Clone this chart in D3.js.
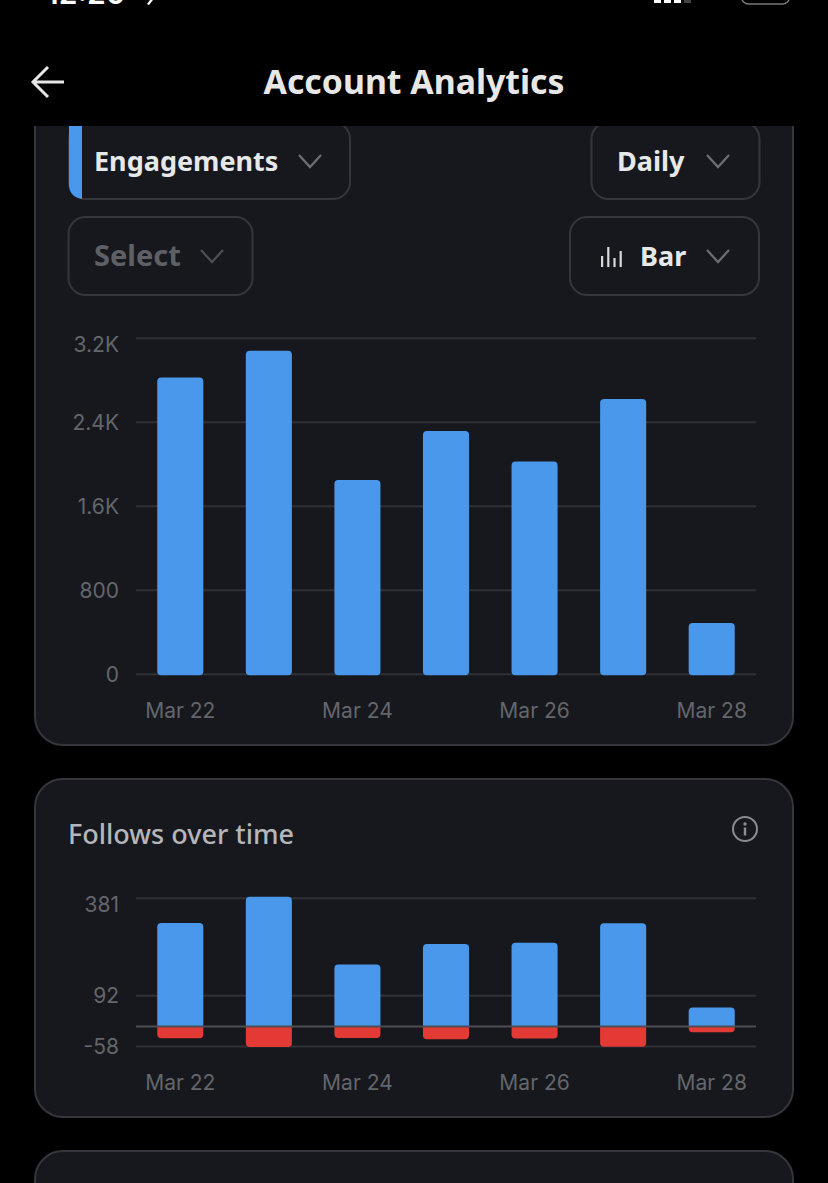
<!DOCTYPE html>
<html>
<head>
<meta charset="utf-8">
<script src="https://cdn.jsdelivr.net/npm/d3@7"></script>
<style>
html, body { margin: 0; padding: 0; background: #000; }
svg { display: block; }
text { font-family: Inter, "Liberation Sans", sans-serif; }
.ui { font-family: "Noto Sans", Inter, sans-serif; font-weight: 700; }
</style>
</head>
<body>
<svg id="chart" width="828" height="1183"></svg>
<script>
// values
const days = ["Mar 22", "Mar 23", "Mar 24", "Mar 25", "Mar 26", "Mar 27", "Mar 28"];
const dayLabels = ["Mar 22", "Mar 24", "Mar 26", "Mar 28"];
const engagements = [2820, 3076, 1845, 2311, 2021, 2616, 483];
const engagementTicks = [0, 800, 1600, 2400, 3200];
const follows = [306, 384, 183, 244, 248, 305, 56];
const unfollows = [-35, -61, -34, -38, -36, -60, -17];
const followTicks = [-58, 92, 381];

const blue = "#4a98eb";
const red = "#e33a36";
const cardFill = "#16181d";
const cardStroke = "#34363c";
const gridCol = "#2f3136";
const tickCol = "#63666b";

const svg = d3.select("#chart");

// cards, the top one runs under the header
card(35, 60, 758, 685);
card(35, 779, 758, 338);
card(35, 1151, 758, 80);

const x = d3.scaleBand().domain(days).range([136, 756]).paddingInner(0.48).paddingOuter(0.24);

// top chart
const y1 = d3.scaleLinear().domain([0, 3200]).range([673.7, 337.7]);
yAxis(y1, engagementTicks, d => d >= 1000 ? (d / 1000).toFixed(1) + "K" : d);
xAxis(711);
svg.append("g").selectAll("path").data(engagements).join("path")
    .attr("fill", blue)
    .attr("d", (d, i) => bar(x(days[i]), x.bandwidth(), y1(d), y1(0) + 1.5, 4, 4));

// follows chart
const y2 = d3.scaleLinear().domain([-58, 381]).range([1046, 897.7]);
yAxis(y2, followTicks, d => d < 0 ? "-" + Math.abs(d) : d);
xAxis(1083);
svg.append("g").selectAll("path").data(follows).join("path")
    .attr("fill", blue)
    .attr("d", (d, i) => bar(x(days[i]), x.bandwidth(), y2(d), y2(0), 4, 0));
svg.append("g").selectAll("path").data(unfollows).join("path")
    .attr("fill", red)
    .attr("d", (d, i) => bar(x(days[i]), x.bandwidth(), y2(0), y2(d), 0, 4));
svg.append("line")
    .attr("x1", 136).attr("x2", 756)
    .attr("y1", y2(0)).attr("y2", y2(0))
    .attr("stroke", "#4c4e53").attr("stroke-width", 2);

svg.append("text").attr("x", 68).attr("y", 843.5)
    .attr("fill", "#b4b6ba").attr("font-size", 27).attr("font-weight", 500)
    .style("font-family", "'Noto Sans', Inter, sans-serif")
    .text("Follows over time");

// info icon
const info = svg.append("g").attr("transform", "translate(745,829)");
info.append("circle").attr("r", 12).attr("fill", "none").attr("stroke", "#8a8c90").attr("stroke-width", 2);
info.append("circle").attr("cy", -5).attr("r", 1.7).attr("fill", "#8a8c90");
info.append("rect").attr("x", -1.2).attr("y", -1.5).attr("width", 2.4).attr("height", 8).attr("fill", "#8a8c90");

// dropdowns
button(69, 122, 281, 77, "Engagements", 94, 310, "#e7e8ea", 27, "#6d6f74");
button(591.5, 122, 168, 77, "Daily", 617, 718, "#e7e8ea", 27, "#6d6f74");
button(68.5, 217, 184, 78, "Select", 94, 212, "#5e6065", 29, "#4c4e53");
button(570, 217, 189, 78, "Bar", 640, 718, "#e7e8ea", 27, "#6d6f74");

// blue marker on Engagements
svg.append("path").attr("fill", blue)
    .attr("d", "M69,122 H82 V199 Q69,197 69,184 Z");

// small bars icon in the Bar button
const iconBars = [11, 20, 9, 16];
svg.append("g").selectAll("rect").data(iconBars).join("rect")
    .attr("x", (d, i) => 601 + i * 6.2)
    .attr("y", d => 267 - d)
    .attr("width", 2.2)
    .attr("height", d => d)
    .attr("fill", "#d8d9db");

// header on top of the scrolled card
svg.append("rect").attr("width", 828).attr("height", 126).attr("fill", "#000");
svg.append("text").attr("class", "ui").attr("x", 414).attr("y", 94)
    .attr("text-anchor", "middle").attr("fill", "#e7e7e7").attr("font-size", 33.8)
    .text("Account Analytics");
svg.append("path").attr("fill", "none").attr("stroke", "#e7e7e7").attr("stroke-width", 3)
    .attr("d", "M64,82 H33 M48,67 L33,82 L48,97");

// clipped status bar
svg.append("text").attr("x", 46).attr("y", 4).attr("fill", "#fff")
    .attr("font-size", 30).attr("font-weight", 600).text("12:20");
svg.append("path").attr("fill", "#fff").attr("d", "M147,4 L150,0 H153 L149,5 Z");
svg.append("g").selectAll("rect").data([0, 1, 2, 3]).join("rect")
    .attr("x", d => 654 + d * 10).attr("y", -2)
    .attr("width", 7).attr("height", 5)
    .attr("fill", d => d == 3 ? "#444" : "#fff");
svg.append("rect").attr("x", 741.5).attr("y", -20).attr("width", 48).attr("height", 24).attr("rx", 7)
    .attr("fill", "none").attr("stroke", "#777").attr("stroke-width", 1.5);

function card(cx, cy, w, h) {
    svg.append("rect")
        .attr("x", cx).attr("y", cy).attr("width", w).attr("height", h).attr("rx", 28)
        .attr("fill", cardFill).attr("stroke", cardStroke).attr("stroke-width", 2);
}

// rect with separate top and bottom corner radii
function bar(bx, w, top, bottom, rt, rb) {
    const p = d3.path();
    p.moveTo(bx, bottom - rb);
    p.lineTo(bx, top + rt);
    p.quadraticCurveTo(bx, top, bx + rt, top);
    p.lineTo(bx + w - rt, top);
    p.quadraticCurveTo(bx + w, top, bx + w, top + rt);
    p.lineTo(bx + w, bottom - rb);
    p.quadraticCurveTo(bx + w, bottom, bx + w - rb, bottom);
    p.lineTo(bx + rb, bottom);
    p.quadraticCurveTo(bx, bottom, bx, bottom - rb);
    p.closePath();
    return p.toString();
}

function yAxis(scale, ticks, fmt) {
    const top = d3.max(ticks);
    const g = svg.append("g").attr("transform", "translate(136,0)")
        .call(d3.axisLeft(scale).tickValues(ticks).tickFormat(fmt).tickSize(-620).tickPadding(17));
    g.select(".domain").remove();
    g.selectAll("line").attr("stroke", gridCol).attr("stroke-width", 2);
    // the top label sits a bit below its gridline in the app
    g.selectAll("text")
        .attr("fill", tickCol).attr("font-size", 21)
        .style("font-family", "Inter, sans-serif")
        .attr("y", d => d == top ? 6 : 0)
        .attr("dy", "0.35em");
    return g;
}

function xAxis(yPos) {
    const g = svg.append("g").attr("transform", `translate(0,${yPos})`)
        .call(d3.axisBottom(x).tickValues(dayLabels).tickSize(0).tickPadding(0));
    g.select(".domain").remove();
    g.selectAll("text")
        .attr("fill", tickCol).attr("font-size", 21)
        .style("font-family", "Inter, sans-serif")
        .attr("y", 0).attr("dy", "0.32em");
    return g;
}

function button(bx, by, w, h, label, tx, chevX, col, size, chevCol) {
    svg.append("rect").attr("x", bx).attr("y", by).attr("width", w).attr("height", h).attr("rx", 17)
        .attr("fill", "none").attr("stroke", cardStroke).attr("stroke-width", 2);
    svg.append("text").attr("class", "ui").attr("x", tx).attr("y", by + 48.5)
        .attr("fill", col).attr("font-size", size).text(label);
    svg.append("path").attr("fill", "none").attr("stroke", chevCol).attr("stroke-width", 2.2)
        .attr("d", `M${chevX - 11},${by + 33} L${chevX},${by + 45} L${chevX + 11},${by + 33}`);
}
</script>
</body>
</html>
